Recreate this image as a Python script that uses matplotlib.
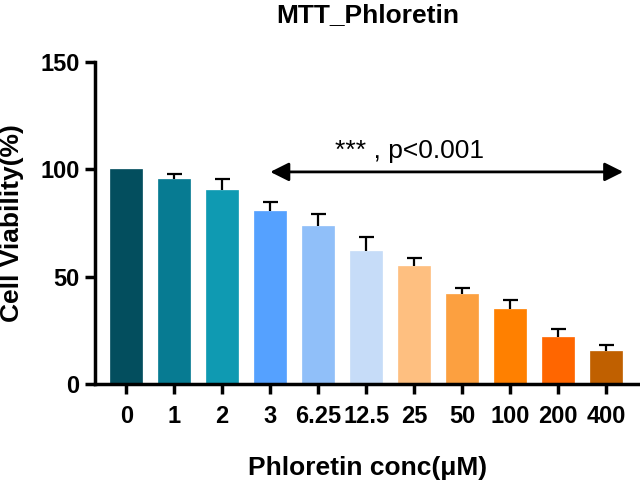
import numpy as np
import matplotlib.pyplot as plt

plt.rcParams['font.family'] = ['Liberation Sans', 'DejaVu Sans']

conc_labels = ["0", "1", "2", "3", "6.25", "12.5", "25", "50", "100", "200", "400"]
viability = [100, 95.5, 90.4, 80.6, 73.6, 61.9, 55.0, 41.9, 34.9, 21.9, 15.4]
err_upper = [0, 2.3, 5.1, 4.2, 5.6, 6.6, 3.7, 2.8, 4.2, 3.7, 2.8]
bar_colors = ["#034E5E", "#077B92", "#0F9AB2", "#55A1FF", "#90BFF9", "#C6DCF8",
              "#FEBF80", "#FCA040", "#FF8000", "#FF6600", "#C06000"]

fig = plt.figure(figsize=(6.4, 4.8), dpi=100)
ax = fig.add_axes([95/640, 1-384/480, 545/640, 322/480])

x = np.arange(len(conc_labels))
vals = np.array(viability)
errs = np.array(err_upper)
ax.bar(x, vals, width=0.67, color=bar_colors, edgecolor=bar_colors, linewidth=0.5, zorder=3)
# upper error bars only (SD)
has_err = errs > 0
ax.vlines(x[has_err], vals[has_err], vals[has_err] + errs[has_err], color='black', lw=1.6, zorder=2)
ax.hlines(vals[has_err] + errs[has_err], x[has_err] - 0.16, x[has_err] + 0.16, color='black', lw=1.6, zorder=2)

ax.set_xlim(-0.65, 10.7)
ax.set_ylim(0, 150)
ax.set_yticks([0, 50, 100, 150])
ax.set_xticks(x)
ax.set_xticklabels(conc_labels)

for s in ['top', 'right']:
    ax.spines[s].set_visible(False)
for s in ['left', 'bottom']:
    ax.spines[s].set_linewidth(2.5)
    ax.spines[s].set_zorder(4)
ax.tick_params(axis='both', width=2.5, length=7, labelsize=17)
ax.tick_params(axis='x', pad=8)
ax.tick_params(axis='y', pad=4)
for lab in ax.get_xticklabels() + ax.get_yticklabels():
    lab.set_fontweight('bold')

# significance arrow
ax.annotate('', xy=(3.0, 98.8), xytext=(10.35, 98.8),
            arrowprops=dict(arrowstyle='<|-|>', color='black', lw=2,
                            mutation_scale=28, shrinkA=0, shrinkB=0))
ax.text(5.9, 108.5, "*** , p<0.001", ha='center', va='center', fontsize=19)

ax.set_title("MTT_Phloretin", fontsize=19, fontweight='bold', pad=29)
ax.set_xlabel("Phloretin conc(\u03bcM)", fontsize=19, fontweight='bold', labelpad=20)
ax.set_ylabel("Cell Viability(%)", fontsize=19, fontweight='bold', labelpad=12)

fig.savefig("out.png", dpi=100)
